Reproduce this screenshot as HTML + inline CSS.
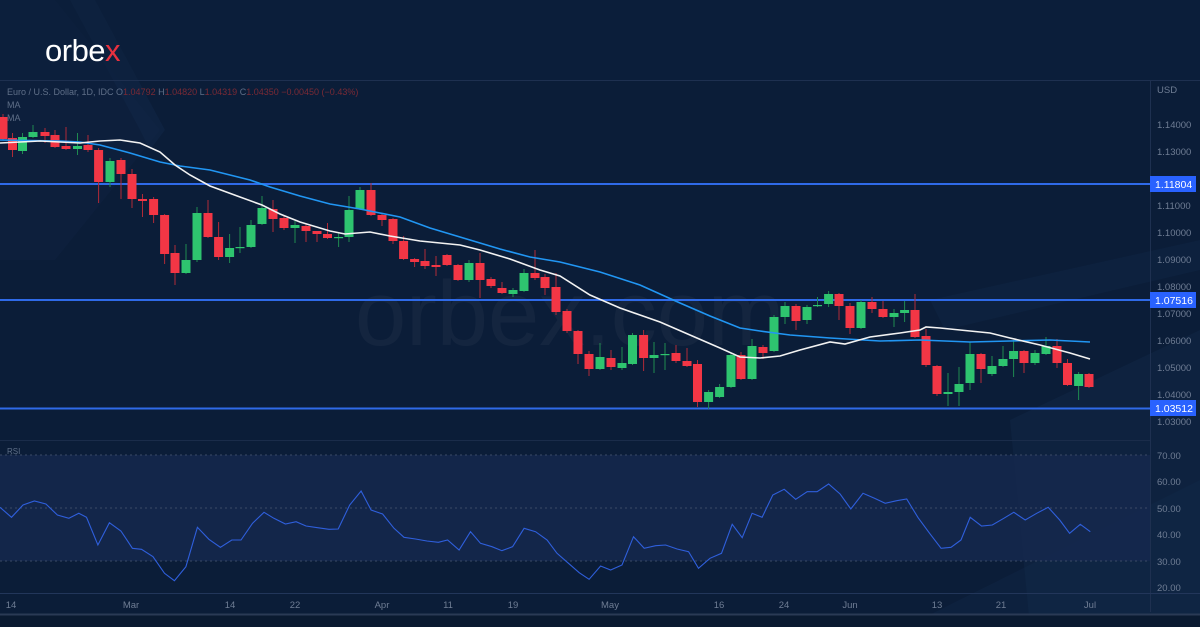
<!DOCTYPE html>
<html><head><meta charset="utf-8"><style>
html,body{margin:0;padding:0;background:#0b1d38;}
#w{position:relative;width:1200px;height:627px;overflow:hidden;background:#0b1d38;font-family:"Liberation Sans",sans-serif;}
svg{position:absolute;left:0;top:0}
</style></head><body><div id="w">
<svg id="s" width="1200" height="627" xmlns="http://www.w3.org/2000/svg">
<rect width="1200" height="627" fill="#0b1d38"/>
<!-- decorative diagonals -->
<polygon points="0,0 55,0 160,130 55,260 0,260" fill="#0f2240" opacity="0.6"/>
<polygon points="70,0 95,0 165,130 150,150 140,130" fill="#112747" opacity="0.5"/>
<polygon points="905,627 1200,480 1200,627" fill="#0f2543" opacity="0.5"/>
<polygon points="930,300 1200,240 1200,270 945,330" fill="#102644" opacity="0.5"/>
<polygon points="1010,420 1200,330 1200,627 1030,627" fill="#122a4a" opacity="0.45"/>
<!-- header bar -->
<rect x="0" y="0" width="1200" height="80" fill="#0c1f3c" opacity="0.5"/>
<line x1="0" y1="80.5" x2="1200" y2="80.5" stroke="#1e3050"/>
<line x1="1150.5" y1="80" x2="1150.5" y2="612" stroke="#1e3050"/>
<!-- RSI band -->
<rect x="0" y="455" width="1150" height="106" fill="#15284d" opacity="0.85"/>
<line x1="0" y1="440.5" x2="1150" y2="440.5" stroke="#1a2c4a"/>
<line x1="0" y1="455" x2="1150" y2="455" stroke="#3b4a66" stroke-dasharray="2,3"/>
<line x1="0" y1="508" x2="1150" y2="508" stroke="#3b4a66" stroke-dasharray="2,3"/>
<line x1="0" y1="561" x2="1150" y2="561" stroke="#3b4a66" stroke-dasharray="2,3"/>
<line x1="0" y1="593.5" x2="1200" y2="593.5" stroke="#22365a"/>
<rect x="0" y="614" width="1200" height="13" fill="#0a1a30"/>
<line x1="0" y1="614.5" x2="1200" y2="614.5" stroke="#2a3a55" stroke-width="2"/>
<!-- watermark -->
<text x="355" y="345" font-size="92" fill="#ffffff" opacity="0.035" font-family="Liberation Sans, sans-serif">orbex.com</text>
<!-- logo -->
<text x="45" y="61" font-size="31" fill="#ffffff" font-family="Liberation Sans, sans-serif" letter-spacing="-0.5">orbe<tspan fill="#e8313f">x</tspan></text>
<!-- header text -->
<text x="7" y="95" font-size="9" fill="#5f6f88">Euro / U.S. Dollar, 1D, IDC  O<tspan fill="#7a2a35">1.04792</tspan>  H<tspan fill="#7a2a35">1.04820</tspan>  L<tspan fill="#7a2a35">1.04319</tspan>  C<tspan fill="#7a2a35">1.04350</tspan>  <tspan fill="#7a2a35">−0.00450 (−0.43%)</tspan></text>
<text x="7" y="108" font-size="9" fill="#5f6f88">MA</text>
<text x="7" y="121" font-size="9" fill="#5f6f88">MA</text>
<text x="7" y="454" font-size="8" fill="#5f6f88">RSI</text>
<!-- horizontal levels -->
<line x1="0" y1="184" x2="1150" y2="184" stroke="#2f6ae8" stroke-width="2"/>
<line x1="0" y1="300" x2="1150" y2="300" stroke="#2f6ae8" stroke-width="2"/>
<line x1="0" y1="408.5" x2="1150" y2="408.5" stroke="#2f6ae8" stroke-width="2"/>
<g id="candles"></g>
<polyline id="mab" fill="none" stroke="#2196f3" stroke-width="1.6"/>
<polyline id="maw" fill="none" stroke="#f2f2f2" stroke-width="1.6"/>
<polyline id="rsi" fill="none" stroke="#2f5fdc" stroke-width="1.1"/>
<!-- price axis -->
<g font-size="9.5" fill="#6f7d94">
<text x="1157" y="93">USD</text>
<text x="1157" y="128">1.14000</text>
<text x="1157" y="155">1.13000</text>
<text x="1157" y="209">1.11000</text>
<text x="1157" y="236">1.10000</text>
<text x="1157" y="263">1.09000</text>
<text x="1157" y="290">1.08000</text>
<text x="1157" y="317">1.07000</text>
<text x="1157" y="344">1.06000</text>
<text x="1157" y="371">1.05000</text>
<text x="1157" y="398">1.04000</text>
<text x="1157" y="425">1.03000</text>
<text x="1157" y="459">70.00</text>
<text x="1157" y="485">60.00</text>
<text x="1157" y="512">50.00</text>
<text x="1157" y="538">40.00</text>
<text x="1157" y="565">30.00</text>
<text x="1157" y="591">20.00</text>
</g>
<rect x="1150" y="176" width="46" height="16" fill="#2962ff"/>
<text x="1155" y="188" font-size="10.5" fill="#fff">1.11804</text>
<rect x="1150" y="292" width="46" height="16" fill="#2962ff"/>
<text x="1155" y="304" font-size="10.5" fill="#fff">1.07516</text>
<rect x="1150" y="400" width="46" height="16" fill="#2962ff"/>
<text x="1155" y="412" font-size="10.5" fill="#fff">1.03512</text>
<!-- dates -->
<g font-size="9.5" fill="#6f7d94" text-anchor="middle">
<text x="11" y="608">14</text><text x="131" y="608">Mar</text><text x="230" y="608">14</text>
<text x="295" y="608">22</text><text x="382" y="608">Apr</text><text x="448" y="608">11</text>
<text x="513" y="608">19</text><text x="610" y="608">May</text><text x="719" y="608">16</text>
<text x="784" y="608">24</text><text x="850" y="608">Jun</text><text x="937" y="608">13</text>
<text x="1001" y="608">21</text><text x="1090" y="608">Jul</text>
</g>
</svg>
<script>
var C=[[3,117,139,114,140],[12.5,138,150,133,157],[22.5,151,137,133,154],[33,137,132,125,138],[45,132,136,128,143],[55,135,147,130,148],[66,146,149,127,150],[77.5,149,146,133,155],[88,145,150,135,152],[98.6,150,182,148,203],[110,182,161,158,187],[121,160,174,158,199],[132,174,199,169,208],[142.5,199,201,194,217],[153.6,199,215,197,223],[164.6,215,254,214,264],[175,253,273,245,285],[186,273,260,244,274],[197,260,213,207,262],[208,213,237,200,238],[218.6,237,257,222,260],[229.6,257,248,234,263],[240,248,247,227,253],[251,247,225,220,248],[262,224,208,196,225],[273,209,219,200,232],[284,218,228,216,230],[295,228,225,221,243],[306,226,231,224,242],[317,231,234,231,242],[327.5,234,238,223,239],[338.6,238,237,233,247],[349,237,210,196,242],[360,209,190,187,210],[371,190,215,183,216],[382,215,220,213,226],[393,219,241,218,244],[403.6,241,259,236,260],[414.6,259,262,258,267],[425,261,266,249,269],[436,265,267,256,276],[447,255,265,254,266],[458,265,280,264,281],[469,280,263,260,282],[480,263,280,253,298],[491,279,286,277,288],[502,288,293,282,294],[513,294,290,288,297],[524,291,273,269,292],[535,273,278,250,280],[545,277,288,274,295],[556,287,312,273,315],[567,311,331,309,333],[578,331,354,330,364],[589,354,369,351,376],[600,369,357,343,370],[611,358,367,350,370],[622,368,363,347,370],[632.5,364,335,333,365],[643.6,335,358,330,371],[654,358,355,342,373],[665,355,354,343,370],[676,353,361,345,363],[687,361,366,348,367],[697.5,364,402,360,407],[708.6,402,392,390,409],[719.6,397,387,384,398],[731,387,355,353,388],[741,355,379,352,380],[752,379,346,339,380],[763,347,353,345,359],[774,351,317,315,352],[785,317,306,302,324],[796,306,321,304,330],[807,320,307,305,324],[817.5,306,305,297,307],[828.6,304,294,291,307],[839,294,306,293,320],[850,306,328,303,334],[861,328,302,300,329],[872,302,309,297,313],[883,309,317,301,318],[894,317,313,309,327],[904.6,313,310,301,322],[915,310,337,294,338],[926,336,365,329,367],[937,366,394,365,396],[948,394,392,373,406],[959,392,384,367,406],[970,383,354,342,390],[981,354,369,353,383],[992,374,366,356,376],[1003,366,359,346,367],[1013.6,359,351,340,377],[1024,351,363,350,373],[1035,363,353,350,365],[1046,354,346,337,355],[1057,346,363,339,368],[1067.5,363,385,359,386],[1078.6,386,374,372,400],[1089,374,387,373,388]];
var g='';C.forEach(function(c){var x=c[0],o=c[1],cl=c[2],up=cl<o,col=up?'#2ec46f':'#f23645';var t=Math.min(o,cl),h=Math.max(Math.abs(o-cl),1.2);
g+='<line x1="'+x+'" x2="'+x+'" y1="'+c[3]+'" y2="'+c[4]+'" stroke="'+(up?'#1f8a50':'#b02a37')+'" stroke-width="1"/>';
g+='<rect x="'+(x-4.5)+'" y="'+t+'" width="9" height="'+h+'" fill="'+col+'"/>';});
document.getElementById('candles').innerHTML=g;
document.getElementById('maw').setAttribute('points','0,143 40,141 80,143 100,141 120,140 140,143 160,152 175,165 190,175 210,186 240,197 262,205 280,214 300,222 330,231 345,234 370,232 390,236 420,241 460,245 480,250 510,259 540,270 560,276 590,295 620,308 640,315 660,322 690,335 720,348 740,357 760,358 780,356 800,350 830,342 845,344 870,337 900,333 920,330 926,327 940,328 960,330 990,333 1010,338 1040,345 1070,353 1090,359');
document.getElementById('mab').setAttribute('points','0,140 60,141 80,142 100,145 130,153 160,162 180,166 210,170 250,180 270,187 300,196 330,204 360,209 400,217 430,228 470,240 500,249 530,257 560,262 600,272 640,285 680,303 710,316 740,328 760,331 790,335 830,338 880,341 920,340 970,342 1010,341 1050,340 1090,342');
var R=[[0,232],[15,262],[30,225],[45,213],[60,222],[75,255],[90,265],[103,250],[113,262],[128,345],[143,278],[158,303],[173,355],[185,358],[200,380],[215,430],[228,452],[243,410],[258,292],[273,328],[288,352],[303,330],[315,330],[330,280],[345,247],[358,265],[373,282],[387,275],[400,288],[415,293],[430,298],[442,297],[457,225],[472,183],[485,240],[500,252],[515,295],[528,322],[543,327],[558,333],[573,337],[585,330],[600,360],[615,305],[628,340],[643,350],[656,362],[670,350],[685,295],[700,305],[715,330],[728,370],[743,400],[757,428],[770,448],[785,408],[798,420],[813,405],[828,320],[842,355],[857,347],[870,345],[885,357],[900,365],[913,415],[928,385],[943,370],[957,283],[970,323],[983,250],[996,262],[1010,195],[1025,178],[1040,208],[1055,185],[1068,185],[1083,162],[1098,192],[1112,237],[1128,190],[1143,205],[1157,220],[1172,212],[1185,207],[1200,263],[1215,310],[1230,355],[1243,352],[1256,330],[1268,262],[1283,288],[1297,285],[1312,265],[1325,247],[1340,270],[1355,250],[1370,232],[1385,270],[1398,310],[1412,283],[1425,305]];
document.getElementById('rsi').setAttribute('points',R.map(function(p){return (p[0]/1.307).toFixed(1)+','+(430+p[1]/3).toFixed(1)}).join(' '));
</script>
</div></body></html>
